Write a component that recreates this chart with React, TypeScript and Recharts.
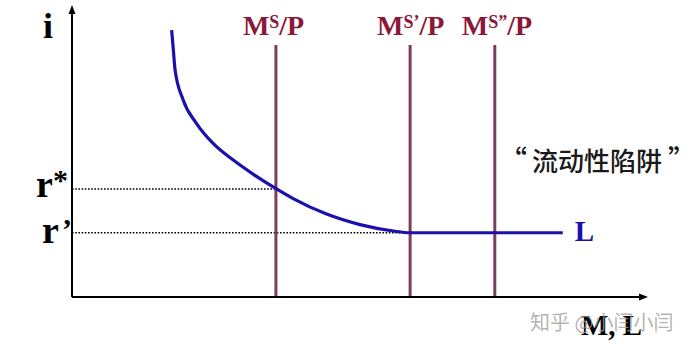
import React from "react";
import { LineChart, Line, XAxis, YAxis, ReferenceLine, ReferenceDot } from "recharts";

// Liquidity preference curve L (money quantity M, interest rate i)
const curveM = [1.73, 1.76, 1.79, 1.93, 2.16, 2.45, 2.8, 3.15, 3.55, 3.84, 4.42, 5.0, 5.58, 5.87, 8.52];
const curveI = [9.14, 8.45, 7.77, 6.75, 5.95, 5.26, 4.69, 4.2, 3.7, 3.37, 2.84, 2.48, 2.26, 2.2, 2.2];

// Money supply lines
const supplyM = [3.54, 5.87, 7.34];
const supplyPrimes = ["", "’", "”"];
const supplyTop = 8.63;

// Interest rate levels
const rStar = 3.7;
const rPrime = 2.2;

const xMax = 10;
const yMax = 10;

const curveData = curveM.map((m, k) => ({ m, i: curveI[k] }));

const SERIF = "'Liberation Serif', 'Times New Roman', serif";
const CJK = "'Noto Sans CJK SC', 'Noto Sans', sans-serif";
const BLUE = "#1b10ae";
const MAUVE = "#7c3d5e";
const CRIMSON = "#8a1838";

const arrowShape = (p: any) => {
  const { x1, y1, x2, y2 } = p;
  const ang = Math.atan2(y2 - y1, x2 - x1);
  const L = 9;
  const W = 3.5;
  const bx = x2 - L * Math.cos(ang);
  const by = y2 - L * Math.sin(ang);
  const px = -Math.sin(ang) * W;
  const py = Math.cos(ang) * W;
  return (
    <g>
      <line x1={x1} y1={y1} x2={bx} y2={by} stroke="#000" strokeWidth={2} />
      <path d={`M${x2},${y2}L${bx + px},${by + py}L${bx - px},${by - py}Z`} fill="#000" />
    </g>
  );
};

const textAt = (render: (x: number, y: number) => React.ReactElement) => (p: any) =>
  render(p.cx, p.cy);

export default function App() {
  return (
    <div style={{ position: "absolute", left: 0, top: 0, background: "#fff" }}>
      <LineChart
        width={696}
        height={349}
        data={curveData}
        margin={{ top: 5, left: 72, right: 48, bottom: 52 }}
      >
        <XAxis dataKey="m" type="number" domain={[0, xMax]} hide />
        <YAxis type="number" domain={[0, yMax]} hide />

        {/* dotted guide lines */}
        <ReferenceLine
          segment={[{ x: 0, y: rStar }, { x: supplyM[0], y: rStar }]}
          stroke="#000"
          strokeWidth={1.4}
          strokeDasharray="1.6 1.6"
        />
        <ReferenceLine
          segment={[{ x: 0, y: rPrime }, { x: supplyM[1], y: rPrime }]}
          stroke="#000"
          strokeWidth={1.7}
          strokeDasharray="1.6 1.6"
        />

        {/* money supply verticals */}
        {supplyM.map((x, k) => (
          <ReferenceLine
            key={"s" + k}
            segment={[{ x, y: 0 }, { x, y: supplyTop }]}
            stroke={MAUVE}
            strokeWidth={3}
          />
        ))}

        {/* axes with arrows */}
        <ReferenceLine segment={[{ x: 0, y: 0 }, { x: xMax, y: 0 }]} shape={arrowShape} />
        <ReferenceLine segment={[{ x: 0, y: 0 }, { x: 0, y: yMax }]} shape={arrowShape} />

        <Line
          type="monotone"
          dataKey="i"
          stroke={BLUE}
          strokeWidth={3.2}
          dot={false}
          isAnimationActive={false}
        />

        {/* supply labels */}
        {supplyM.map((x, k) => (
          <ReferenceDot
            key={"sl" + k}
            x={x}
            y={supplyTop}
            shape={textAt((cx, cy) => (
              <text
                x={cx - 33}
                y={cy - 10}
                fill={CRIMSON}
                fontFamily={SERIF}
                fontWeight="bold"
                fontSize={28}
              >
                M
                <tspan fontSize={18} dy={-7}>
                  {"S" + supplyPrimes[k]}
                </tspan>
                <tspan dy={7}>/P</tspan>
              </text>
            ))}
          />
        ))}

        {/* axis title i */}
        <ReferenceDot
          x={0}
          y={yMax}
          shape={textAt((cx, cy) => (
            <text x={cx - 29} y={cy + 33} fill="#000" fontFamily={SERIF} fontWeight="bold" fontSize={36}>
              i
            </text>
          ))}
        />

        {/* r* label */}
        <ReferenceDot
          x={0}
          y={rStar}
          shape={textAt((cx, cy) => (
            <g>
              <text x={cx - 36} y={cy + 8} fill="#000" fontFamily={SERIF} fontWeight="bold" fontSize={38}>
                r
              </text>
              <text x={cx - 19} y={cy + 1} fill="#000" fontFamily={SERIF} fontWeight="bold" fontSize={30}>
                *
              </text>
            </g>
          ))}
        />

        {/* r' label */}
        <ReferenceDot
          x={0}
          y={rPrime}
          shape={textAt((cx, cy) => (
            <g>
              <text x={cx - 30} y={cy + 10} fill="#000" fontFamily={SERIF} fontWeight="bold" fontSize={38}>
                r
              </text>
              <text x={cx - 10} y={cy + 6} fill="#000" fontFamily={SERIF} fontWeight="bold" fontSize={30}>
                ’
              </text>
            </g>
          ))}
        />

        {/* L label */}
        <ReferenceDot
          x={curveM[curveM.length - 1]}
          y={curveI[curveI.length - 1]}
          shape={textAt((cx, cy) => (
            <text x={cx + 12} y={cy + 8} fill={BLUE} fontFamily={SERIF} fontWeight="bold" fontSize={29}>
              L
            </text>
          ))}
        />

        {/* liquidity trap note */}
        <ReferenceDot
          x={xMax}
          y={yMax}
          shape={textAt((cx, cy) => (
            <text y={cy + 166} fill="#1a1a1a" fontFamily={CJK} fontWeight={500} fontSize={26}>
              <tspan x={cx - 149} fontSize={28}>“</tspan>
              <tspan x={cx - 116}>流动性陷阱</tspan>
              <tspan x={cx + 20} fontSize={28}>”</tspan>
            </text>
          ))}
        />

        {/* x axis title + watermark */}
        <ReferenceDot
          x={xMax}
          y={0}
          shape={textAt((cx, cy) => (
            <g>
              <text x={cx - 67} y={cy + 38} fill="#000" fontFamily={SERIF} fontWeight="bold" fontSize={29}>
                M, L
              </text>
              <text x={cx - 118} y={cy + 33} fill="#9a9a9a" fillOpacity={0.75} fontFamily={CJK} fontSize={20}>
                知乎 @小闫小闫
              </text>
            </g>
          ))}
        />
      </LineChart>
    </div>
  );
}
